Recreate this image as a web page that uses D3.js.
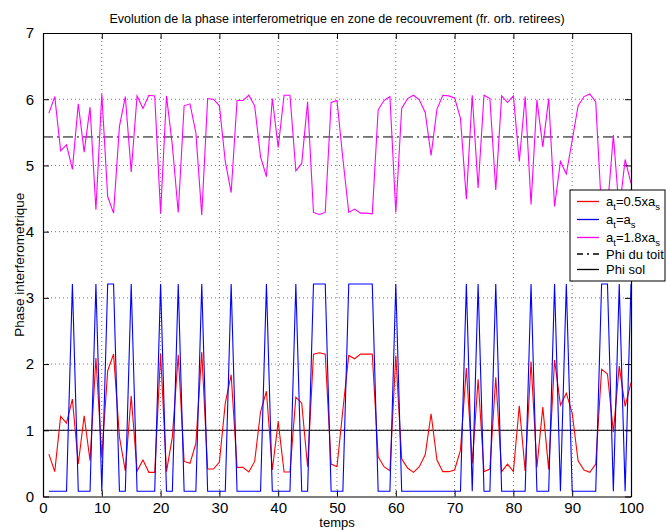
<!DOCTYPE html>
<html><head><meta charset="utf-8">
<script src="https://cdn.jsdelivr.net/npm/d3@7"></script>
<style>
body{margin:0;background:#fff;}
svg{display:block;font-family:"Liberation Sans",Arial,sans-serif;}
</style></head>
<body><svg id="c" width="666" height="530"></svg>
<script>
const title = "Evolution de la phase interferometrique en zone de recouvrement (fr. orb. retirees)";
const xLabel = "temps";
const yLabel = "Phase interferometrique";
const xTicks = [0,10,20,30,40,50,60,70,80,90,100];
const yTicks = [0,1,2,3,4,5,6,7];
const temps = d3.range(1, 101);
const phiToit = 5.43;
const phiSol = 1.0;
const serieRouge = [
0.64,0.375,1.21,1.11,1.47,0.49,1.22,0.54,2.09,0.6,
1.90,2.15,0.90,0.385,1.52,0.385,0.55,0.365,0.365,2.15,
0.375,0.9,2.14,0.53,0.50,0.80,2.18,0.415,0.415,0.52,
1.41,1.84,0.44,0.44,0.37,0.53,1.28,1.59,0.40,1.13,
0.37,0.37,1.50,1.41,0.45,2.15,2.17,2.15,0.49,0.45,
1.31,2.13,2.08,2.15,2.15,2.15,0.60,0.45,0.39,2.13,
0.57,0.43,0.365,0.45,0.63,1.25,0.55,0.375,0.375,0.40,
0.70,1.94,0.5,1.77,0.375,0.415,1.80,0.375,0.49,0.375,
1.37,0.385,2.04,0.44,1.35,0.41,2.06,1.38,1.56,1.26,
0.54,0.40,0.365,0.49,1.92,1.85,0.97,1.97,1.36,1.72];
const serieBleue = [
0.08,0.08,0.08,0.08,3.21,0.08,0.08,0.08,3.21,0.08,
3.21,3.21,0.08,0.08,3.21,0.08,0.08,0.08,0.08,3.21,
0.08,0.08,3.21,0.08,0.08,0.08,3.21,0.08,0.08,0.08,
0.08,3.21,0.08,0.08,0.08,0.08,0.08,3.21,0.08,0.08,
0.08,0.08,3.21,0.08,0.08,3.21,3.21,3.21,0.08,0.08,
0.08,3.21,3.21,3.21,3.21,3.21,0.08,0.08,0.08,3.21,
0.08,0.08,0.08,0.08,0.08,0.08,0.08,0.08,0.08,0.08,
0.08,3.21,0.08,3.21,0.08,0.08,3.21,0.08,0.08,0.08,
0.08,0.08,3.21,0.08,0.08,0.08,3.21,0.08,3.21,0.08,
0.08,0.08,0.08,0.08,3.21,3.21,0.08,3.21,0.08,3.21];
const serieMagenta = [
5.79,6.04,5.22,5.31,4.94,5.93,5.20,5.88,4.33,6.08,
4.53,4.28,5.59,6.04,4.90,6.05,5.86,6.06,6.05,4.28,
6.05,5.3,4.29,5.90,5.93,5.49,4.25,6.01,6.00,5.90,
5.06,4.59,5.98,5.98,6.06,5.90,5.13,4.83,6.01,5.27,
6.06,6.06,4.92,5.03,5.96,4.29,4.26,4.29,5.95,5.98,
5.1,4.29,4.34,4.28,4.28,4.27,5.84,5.98,6.04,4.29,
5.86,6.01,6.06,5.99,5.80,5.15,5.85,6.06,6.05,6.02,
5.71,4.49,6.06,4.66,6.06,6.01,4.63,6.05,5.95,6.05,
5.06,6.04,4.41,5.99,5.28,6.01,4.38,5.06,4.87,5.38,
5.90,6.04,6.08,5.96,4.3,4.35,5.46,4.3,5.09,4.73];

const L = 43, R = 631, T = 33, B = 496.5;
const svg = d3.select("#c");
const x = d3.scaleLinear().domain([0,100]).range([L,R]);
const y = d3.scaleLinear().domain([0,7]).range([B,T]);

// grid
const g = svg.append("g");
g.selectAll(".gx").data(xTicks.slice(1,-1)).enter().append("line")
 .attr("x1",d=>x(d)).attr("x2",d=>x(d)).attr("y1",T).attr("y2",B)
 .attr("stroke","#555").attr("stroke-width",0.8).attr("stroke-dasharray","1,3");
g.selectAll(".gy").data(yTicks.slice(1,-1)).enter().append("line")
 .attr("x1",L).attr("x2",R).attr("y1",d=>y(d)).attr("y2",d=>y(d))
 .attr("stroke","#555").attr("stroke-width",0.8).attr("stroke-dasharray","1,3");

// reference lines
svg.append("line").attr("x1",x(0)).attr("x2",x(100)).attr("y1",y(phiToit)).attr("y2",y(phiToit))
 .attr("stroke","#000").attr("stroke-width",1).attr("stroke-dasharray","10,4,2,4");
svg.append("line").attr("x1",x(0)).attr("x2",x(100)).attr("y1",y(phiSol)).attr("y2",y(phiSol))
 .attr("stroke","#000").attr("stroke-width",1);

const line = d3.line().x((d,i)=>x(temps[i])).y(d=>y(d));
svg.append("path").datum(serieMagenta).attr("d",line).attr("fill","none").attr("stroke","#ff00ff").attr("stroke-width",1.1);
svg.append("path").datum(serieRouge).attr("d",line).attr("fill","none").attr("stroke","#ff0000").attr("stroke-width",1.1);
svg.append("path").datum(serieBleue).attr("d",line).attr("fill","none").attr("stroke","#0000ff").attr("stroke-width",1.1);

// axes
const fs = "15px";
const ax = svg.append("g").attr("transform",`translate(0,${B})`)
 .call(d3.axisBottom(x).tickValues(xTicks).tickSizeInner(-6).tickSizeOuter(0).tickPadding(6).tickFormat(d3.format("d")));
const axT = svg.append("g").attr("transform",`translate(0,${T})`)
 .call(d3.axisTop(x).tickValues(xTicks).tickSizeInner(-6).tickSizeOuter(0).tickFormat(""));
const ay = svg.append("g").attr("transform",`translate(${L},0)`)
 .call(d3.axisLeft(y).tickValues(yTicks).tickSizeInner(-6).tickSizeOuter(0).tickPadding(9).tickFormat(d3.format("d")));
const ayR = svg.append("g").attr("transform",`translate(${R},0)`)
 .call(d3.axisRight(y).tickValues(yTicks).tickSizeInner(-6).tickSizeOuter(0).tickFormat(""));
[ax,axT,ay,ayR].forEach(a=>{
  a.selectAll(".domain").attr("stroke","#000").attr("stroke-width",1.2);
  a.selectAll(".tick line").attr("stroke","#000");
  a.selectAll("text").attr("fill","#000").style("font-size",fs).style("font-family","Liberation Sans, Arial, sans-serif");
});

svg.append("text").attr("x",337).attr("y",23).attr("text-anchor","middle")
 .style("font-size","12.5px").text(title);
svg.append("text").attr("x",L+(R-L)/2).attr("y",527).attr("text-anchor","middle")
 .style("font-size","13px").text(xLabel);
svg.append("text").attr("transform",`translate(24,${(T+B)/2}) rotate(-90)`).attr("text-anchor","middle")
 .style("font-size","13.5px").text(yLabel);

// legend
const legend = [
 {c:"#ff0000", dash:"none", parts:[["a",0],["t",1],["=0.5xa",0],["s",1]]},
 {c:"#0000ff", dash:"none", parts:[["a",0],["t",1],["=a",0],["s",1]]},
 {c:"#ff00ff", dash:"none", parts:[["a",0],["t",1],["=1.8xa",0],["s",1]]},
 {c:"#000000", dash:"6,4,2,4", parts:[["Phi du toit",0]]},
 {c:"#000000", dash:"none", parts:[["Phi sol",0]]}
];
const rowsY = [201.5,219.5,237.5,254,269.5];
svg.append("rect").attr("x",570).attr("y",190).attr("width",95).attr("height",91)
 .attr("fill","#fff").attr("stroke","#000").attr("stroke-width",1);
legend.forEach((e,i)=>{
  const yy = rowsY[i];
  svg.append("line").attr("x1",577).attr("x2",599).attr("y1",yy).attr("y2",yy)
   .style("stroke",e.c).style("stroke-width","1.3px").style("stroke-dasharray",e.dash);
  const t = svg.append("text").attr("x",606).attr("y",yy+4.5).style("font-size","13px");
  let sub = 0;
  e.parts.forEach(p=>{
    const dy = p[1] && !sub ? 4 : (!p[1] && sub ? -4 : 0);
    sub = p[1];
    t.append("tspan").attr("dy",dy).style("font-size",p[1]?"9.5px":"13px").text(p[0]);
  });
});
</script></body></html>
